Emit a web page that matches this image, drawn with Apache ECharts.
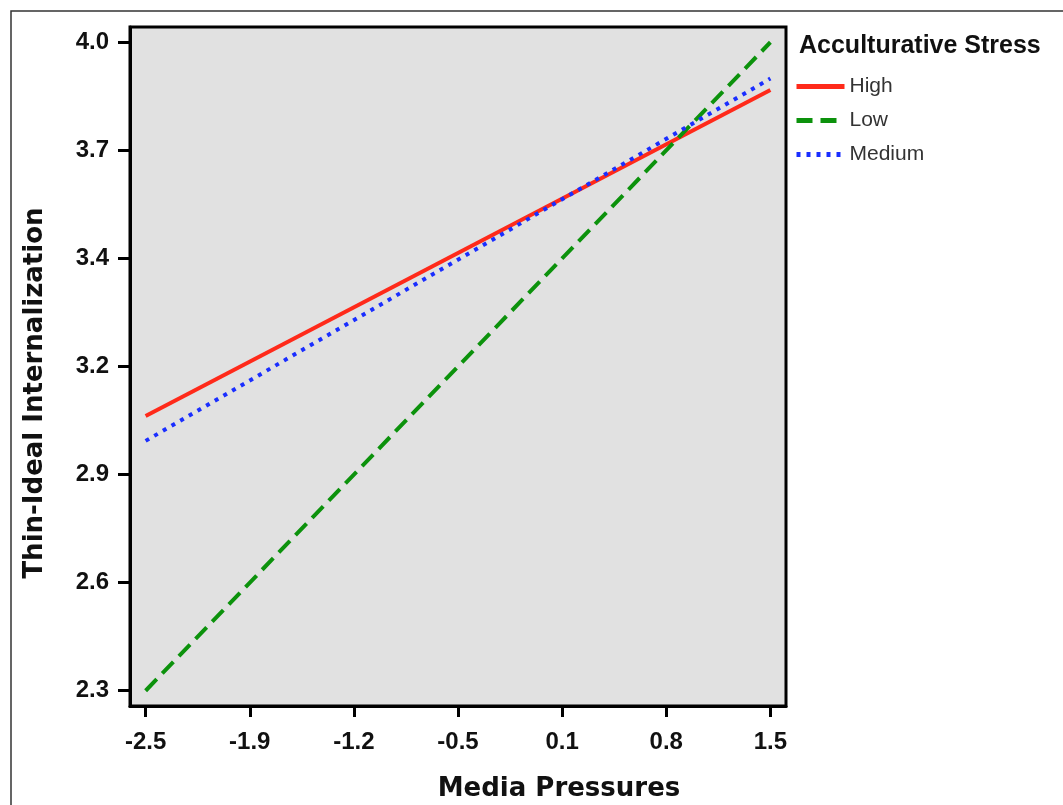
<!DOCTYPE html>
<html>
<head>
<meta charset="utf-8">
<script src="https://cdn.jsdelivr.net/npm/echarts@6/dist/echarts.min.js"></script>
<style>
  html, body { margin: 0; padding: 0; background: #fff; }
  #chart { width: 1063px; height: 805px; }
</style>
</head>
<body>
<div id="chart"></div>
<script>
// 数据
const xValues = [-2.5, 1.5]
const highValues = [3.02, 3.875]
const lowValues = [2.30, 4.0]
const mediumValues = [2.955, 3.905]

// 刻度
const xTickValues = [-2.5, -1.8333, -1.1667, -0.5, 0.1667, 0.8333, 1.5]
const xTickLabels = ['-2.5', '-1.9', '-1.2', '-0.5', '0.1', '0.8', '1.5']
const yTickValues = [2.3, 2.5833, 2.8667, 3.15, 3.4333, 3.7167, 4.0]
const yTickLabels = ['2.3', '2.6', '2.9', '3.2', '3.4', '3.7', '4.0']

const toPoints = (ys) => xValues.map((x, i) => [x, ys[i]])

// 按数值找最近的刻度标签
const labelFor = (values, labels) => (v) => {
  let best = 0
  values.forEach((t, i) => {
    if (Math.abs(t - v) < Math.abs(values[best] - v)) best = i
  })
  return labels[best]
}

const chart = echarts.init(document.getElementById('chart'))

const tickFont = {
  fontFamily: 'Liberation Sans',
  fontWeight: 'bold',
  fontSize: 24,
  color: '#111'
}

const titleFont = {
  fontFamily: 'DejaVu Sans',
  fontWeight: 'bold',
  fontSize: 26,
  fill: '#111'
}

const option = {
  animation: false,
  backgroundColor: '#fff',
  graphic: [
    {
      type: 'rect',
      shape: { x: 11, y: 11, width: 1200, height: 1000 },
      style: { fill: 'none', stroke: '#333', lineWidth: 1.5 },
      silent: true
    },
    {
      type: 'text',
      x: 559,
      y: 789,
      style: {
        text: 'Media Pressures',
        ...titleFont,
        align: 'center',
        verticalAlign: 'middle'
      }
    },
    {
      type: 'text',
      x: 35,
      y: 393,
      rotation: Math.PI / 2,
      style: {
        text: 'Thin-Ideal Internalization',
        ...titleFont,
        align: 'center',
        verticalAlign: 'middle'
      }
    }
  ],
  title: {
    text: 'Acculturative Stress',
    left: 794,
    top: 29,
    textStyle: {
      fontFamily: 'Liberation Sans',
      fontWeight: 'bold',
      fontSize: 25,
      color: '#111'
    }
  },
  legend: {
    orient: 'vertical',
    left: 789,
    top: 71,
    itemWidth: 48,
    itemHeight: 12,
    itemGap: 13,
    itemStyle: { opacity: 0 },
    lineStyle: { width: 5 },
    textStyle: {
      fontFamily: 'Liberation Sans',
      fontSize: 21,
      color: '#333'
    },
    data: ['High', 'Low', 'Medium']
  },
  grid: {
    left: 130,
    right: 277,
    top: 27,
    bottom: 99,
    show: true,
    backgroundColor: '#e1e1e1',
    borderColor: '#000',
    borderWidth: 3
  },
  xAxis: {
    type: 'value',
    min: -2.6,
    max: 1.6,
    splitLine: { show: false },
    axisLine: { show: true, onZero: false, lineStyle: { color: '#000', width: 3 } },
    axisTick: {
      show: true,
      length: 11,
      customValues: xTickValues,
      lineStyle: { color: '#000', width: 3 }
    },
    axisLabel: {
      ...tickFont,
      margin: 24,
      customValues: xTickValues,
      formatter: labelFor(xTickValues, xTickLabels)
    }
  },
  yAxis: {
    type: 'value',
    min: 2.26,
    max: 4.04,
    splitLine: { show: false },
    axisLine: { show: true, onZero: false, lineStyle: { color: '#000', width: 3 } },
    axisTick: {
      show: true,
      length: 12,
      customValues: yTickValues,
      lineStyle: { color: '#000', width: 3 }
    },
    axisLabel: {
      ...tickFont,
      margin: 21,
      customValues: yTickValues,
      formatter: labelFor(yTickValues, yTickLabels)
    }
  },
  series: [
    {
      name: 'High',
      type: 'line',
      symbol: 'none',
      data: toPoints(highValues),
      itemStyle: { color: '#ff2a1a' },
      lineStyle: { color: '#ff2a1a', width: 4 }
    },
    {
      name: 'Low',
      type: 'line',
      symbol: 'none',
      data: toPoints(lowValues),
      itemStyle: { color: '#0c920c' },
      lineStyle: { color: '#0c920c', width: 4, type: [16, 8] }
    },
    {
      name: 'Medium',
      type: 'line',
      symbol: 'none',
      data: toPoints(mediumValues),
      itemStyle: { color: '#1a2eff' },
      lineStyle: { color: '#1a2eff', width: 4, type: [4, 6] }
    }
  ]
}

chart.setOption(option)
</script>
</body>
</html>
